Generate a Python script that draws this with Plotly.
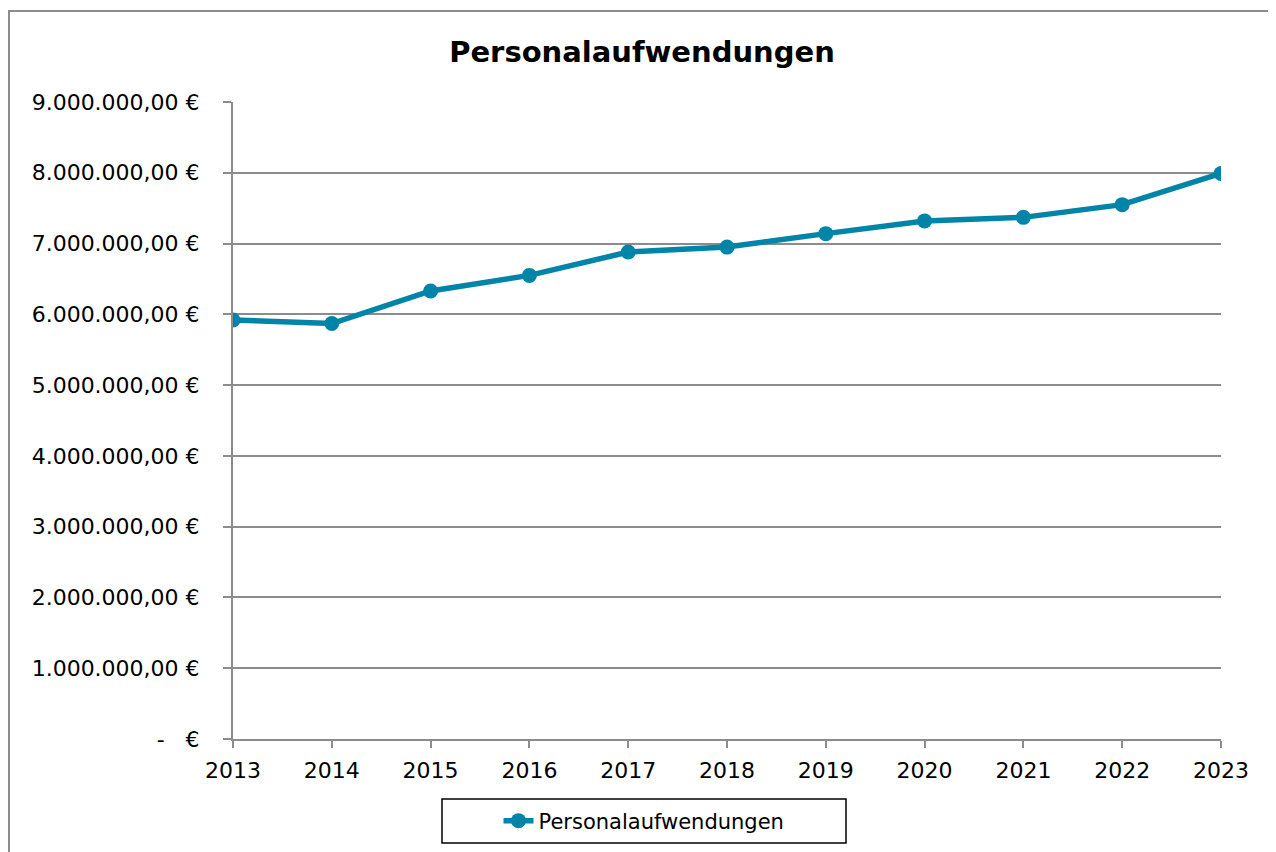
import plotly.graph_objects as go

years = [2013, 2014, 2015, 2016, 2017, 2018, 2019, 2020, 2021, 2022, 2023]
values = [5920000, 5870000, 6330000, 6550000, 6880000, 6950000, 7140000, 7320000, 7370000, 7550000, 7990000]
series_name = "Personalaufwendungen"
title_text = "Personalaufwendungen"
y_ticks = [0, 1000000, 2000000, 3000000, 4000000, 5000000, 6000000, 7000000, 8000000, 9000000]


def de_fmt(v):
    if v == 0:
        return "-\u00a0\u00a0\u00a0€"
    s = f"{v:,.2f}"
    s = s.replace(",", "X").replace(".", ",").replace("X", ".")
    return s + "\u00a0€"


# page body has an 8px margin, so figure coords = screen - 8
W, H = 1268, 844
L, R, T, B = 225, 55, 94, 113
pw, ph = W - L - R, H - T - B


def px_x(x):
    return (x - L) / pw


def px_y(y):
    return (H - B - y) / ph


color = "#0085A8"
grid = "#8C8C8C"

fig = go.Figure()
fig.add_trace(go.Scatter(
    x=years, y=values, mode="lines+markers", name=series_name,
    line=dict(color=color, width=5.5),
    marker=dict(color=color, size=15),
))

fig.update_layout(
    width=W, height=H,
    margin=dict(l=L, r=R, t=T, b=B),
    paper_bgcolor="white", plot_bgcolor="white",
    font=dict(family="DejaVu Sans", size=22, color="black"),
    title=dict(text="<b>" + title_text + "</b>", x=0.5, xref="container", xanchor="center",
               y=1 - 44 / H, yref="container", yanchor="middle",
               font=dict(family="DejaVu Sans", size=29, color="black")),
    showlegend=True,
    legend=dict(orientation="h", xref="container", yref="container",
                x=636 / W, xanchor="center", y=1 - 813 / H, yanchor="middle",
                font=dict(family="DejaVu Sans", size=21, color="black"),
                bgcolor="rgba(0,0,0,0)", borderwidth=0),
    xaxis=dict(range=[2013, 2023], tickvals=years, ticktext=[str(y) for y in years],
               showgrid=False, zeroline=False, showline=True, linecolor=grid, linewidth=2,
               ticks="outside", ticklen=7, tickcolor=grid, tickwidth=2,
               ticklabelstandoff=4, tickfont=dict(size=22)),
    yaxis=dict(range=[0, 9000000], tickvals=y_ticks, ticktext=[de_fmt(v) for v in y_ticks],
               showgrid=True, gridcolor=grid, gridwidth=1.5, zeroline=False,
               showline=True, linecolor=grid, linewidth=2,
               ticks="outside", ticklen=8, tickcolor=grid, tickwidth=2,
               ticklabelstandoff=19, tickfont=dict(size=22)),
    shapes=[
        dict(type="rect", xref="paper", yref="paper",
             x0=px_x(1), x1=px_x(1300), y0=px_y(3), y1=px_y(880),
             line=dict(color="#8C8C8C", width=2), fillcolor="rgba(0,0,0,0)", layer="below"),
        dict(type="rect", xref="paper", yref="paper",
             x0=px_x(434), x1=px_x(838), y0=px_y(791), y1=px_y(835),
             line=dict(color="black", width=1.5), fillcolor="rgba(0,0,0,0)"),
    ],
)

fig.write_html("out.html")
